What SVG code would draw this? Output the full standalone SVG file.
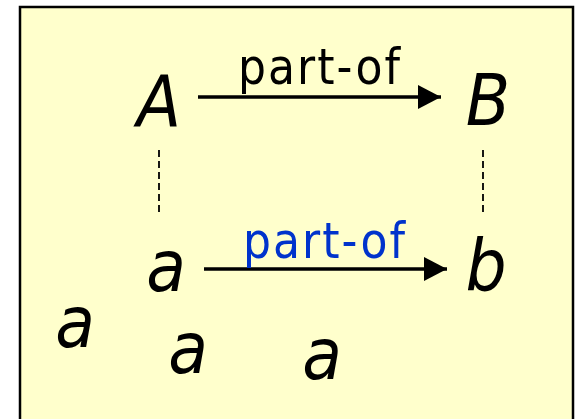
<svg xmlns="http://www.w3.org/2000/svg" width="578" height="419" viewBox="0 0 578 419">
<style>
.big{font-family:"DejaVu Sans","Liberation Sans",sans-serif;font-stretch:condensed;font-style:italic;font-size:72px;fill:#000;text-anchor:middle}
.lbl{font-family:"DejaVu Sans","Liberation Sans",sans-serif;font-stretch:condensed;font-size:49px}
.conn{stroke:#000;stroke-width:3.5;fill:none}
.dash{stroke:#000;stroke-width:1.8;stroke-dasharray:7,4;fill:none}
</style>
<defs>
<marker id="ah" markerUnits="userSpaceOnUse" markerWidth="26" markerHeight="26" refX="23" refY="13" orient="auto">
<path d="M0,1 L23,13 L0,25 Z" fill="#000"/>
</marker>
</defs>
<rect x="20" y="7" width="553" height="430" fill="#ffffcc" stroke="#000" stroke-width="2.5"/>
<g id="connectors">
<line class="conn" x1="198" y1="97" x2="441" y2="97" marker-end="url(#ah)"/>
<line class="conn" x1="204" y1="269" x2="447" y2="269" marker-end="url(#ah)"/>
<line class="dash" x1="159" y1="150" x2="159" y2="216"/>
<line class="dash" x1="483" y1="150" x2="483" y2="216"/>
<text class="lbl" x="238" y="84" textLength="162" lengthAdjust="spacing" fill="#000">part-of</text>
<text class="lbl" x="243" y="258" textLength="162" lengthAdjust="spacing" fill="#0033cc">part-of</text>
</g>
<g id="A"><text class="big" x="159" y="126">A</text></g>
<g id="B"><text class="big" x="488" y="125">B</text></g>
<g id="a"><text class="big" x="166" y="291">a</text></g>
<g id="b"><text class="big" x="486" y="290">b</text></g>
<g id="a1"><text class="big" x="75" y="347">a</text></g>
<g id="a2"><text class="big" x="188" y="373">a</text></g>
<g id="a3"><text class="big" x="322" y="379">a</text></g>
</svg>
